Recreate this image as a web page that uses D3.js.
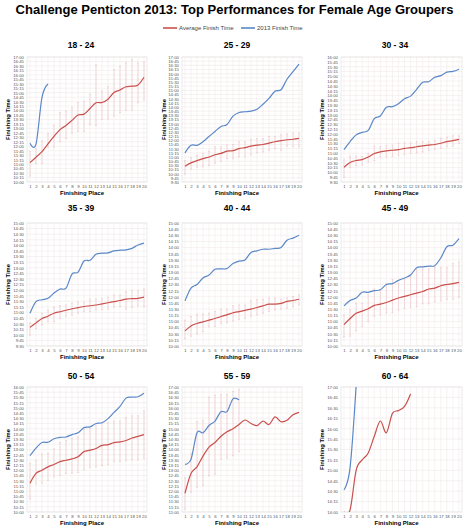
<!DOCTYPE html>
<html>
<head>
<meta charset="utf-8">
<script src="https://cdn.jsdelivr.net/npm/d3@7"></script>
<style>
body { margin: 0; background: #fff; }
text { font-family: "Liberation Sans", Arial, sans-serif; }
</style>
</head>
<body>
<script>

var width = 469, height = 530;

var places = [1, 2, 3, 4, 5, 6, 7, 8, 9, 10, 11, 12, 13, 14, 15, 16, 17, 18, 19, 20];
var ageGroups = ["18 - 24", "25 - 29", "30 - 34", "35 - 39", "40 - 44", "45 - 49", "50 - 54", "55 - 59", "60 - 64"];
var seriesNames = ["Average Finish Time", "2013 Finish Time"];

// y axis range of each panel
var range1824 = ["10:00", "17:00"];
var range2529 = ["9:30", "17:00"];
var range3034 = ["9:30", "16:00"];
var range3539 = ["9:30", "15:00"];
var range4044 = ["10:00", "15:00"];
var range4549 = ["10:00", "15:00"];
var range5054 = ["10:00", "16:00"];
var range5559 = ["11:00", "17:00"];
var range6064 = ["14:00", "17:00"];

// 18 - 24
var avg1824 = ["11:05","11:23","11:42","12:08","12:33","12:56","13:10","13:27","13:45","13:48","14:07","14:26","14:27","14:38","15:01","15:09","15:20","15:22","15:26","15:52"];
var low1824 = ["10:20","11:02","11:02","11:57","11:57","12:16","12:26","12:45","12:50","12:50","13:13","13:10","13:30","13:32","13:41","13:53","14:01","14:02","14:27","14:36"];
var high1824 = ["11:42","11:53","12:18","12:42","13:10","13:53","13:58","14:11","14:27","14:30","14:55","16:34","15:06","15:21","16:18","16:29","16:41","16:52","16:40","16:43"];
var fin1824 = ["12:10","12:07","14:44","15:29"];

// 25 - 29
var avg2529 = ["10:27","10:39","10:47","10:54","11:00","11:08","11:13","11:21","11:23","11:30","11:34","11:39","11:43","11:45","11:50","11:55","11:59","12:02","12:04","12:07"];
var low2529 = ["9:58","10:17","10:23","10:25","10:29","10:38","10:45","10:54","10:54","11:00","11:00","11:08","11:15","11:18","11:24","11:30","11:24","11:39","11:37","11:37"];
var high2529 = ["10:47","10:57","11:06","11:12","11:21","11:37","11:37","11:43","11:45","11:55","11:55","12:04","12:06","12:06","12:14","12:14","12:20","12:23","12:26","12:26"];
var fin2529 = ["11:15","11:42","11:42","11:55","12:14","12:32","12:50","12:57","13:27","13:40","13:43","13:45","13:52","14:10","14:31","14:57","15:02","15:40","16:07","16:34"];

// 30 - 34
var avg3034 = ["10:16","10:31","10:37","10:40","10:48","10:59","11:04","11:07","11:09","11:11","11:15","11:17","11:20","11:23","11:25","11:27","11:31","11:36","11:39","11:43"];
var low3034 = ["9:44","10:16","10:21","10:23","10:32","10:37","10:48","10:48","10:50","10:53","10:55","10:59","11:01","11:04","11:09","11:11","11:15","11:20","11:22","11:31"];
var high3034 = ["10:39","10:50","10:51","10:50","10:59","11:22","11:20","11:24","11:25","11:31","11:33","11:33","11:36","11:36","11:36","11:39","11:47","11:50","11:54","11:54"];
var fin3034 = ["11:11","11:36","11:57","12:05","12:11","12:48","12:56","13:23","13:25","13:34","13:50","13:58","14:19","14:41","14:43","14:57","15:02","15:13","15:15","15:22"];

// 35 - 39
var avg3539 = ["10:20","10:32","10:44","10:50","10:58","11:02","11:06","11:10","11:13","11:16","11:18","11:20","11:23","11:26","11:29","11:32","11:36","11:37","11:38","11:41"];
var low3539 = ["9:59","10:17","10:26","10:35","10:35","10:44","10:50","10:53","10:58","11:02","11:02","11:07","11:07","11:09","11:14","11:16","11:09","11:13","11:18","11:16"];
var high3539 = ["10:32","10:44","10:58","11:07","11:14","11:18","11:20","11:25","11:28","11:27","11:36","11:36","11:38","11:41","11:47","11:47","11:56","11:59","11:59","12:03"];
var fin3539 = ["10:58","11:29","11:34","11:38","11:52","12:03","12:05","12:43","12:48","13:18","13:20","13:36","13:39","13:40","13:45","13:47","13:48","13:52","14:01","14:06"];

// 40 - 44
var avg4044 = ["10:37","10:49","10:55","10:59","11:03","11:07","11:12","11:16","11:21","11:24","11:27","11:30","11:34","11:38","11:42","11:42","11:44","11:49","11:51","11:54"];
var low4044 = ["10:18","10:24","10:29","10:35","10:47","10:48","10:55","10:57","11:01","11:05","11:07","11:12","11:16","11:20","11:24","11:28","11:30","11:32","11:36","11:40"];
var high4044 = ["11:03","11:12","11:18","11:18","11:20","11:24","11:30","11:30","11:38","11:40","11:40","11:51","11:53","11:54","11:57","11:57","11:54","11:57","12:01","12:05"];
var fin4044 = ["11:50","12:21","12:30","12:46","12:53","13:07","13:08","13:09","13:21","13:27","13:30","13:48","13:52","13:56","13:56","13:58","14:00","14:18","14:23","14:30"];

// 45 - 49
var avg4549 = ["10:52","11:07","11:20","11:25","11:31","11:39","11:42","11:46","11:52","11:57","12:01","12:05","12:09","12:13","12:19","12:21","12:27","12:30","12:32","12:35"];
var low4549 = ["10:22","10:24","10:37","10:48","10:59","11:12","11:16","11:20","11:21","11:28","11:32","11:34","11:36","11:43","11:43","11:48","11:50","11:53","11:54","11:59"];
var high4549 = ["11:16","11:28","11:44","11:44","12:05","12:19","12:17","12:32","12:42","12:33","12:42","12:50","13:06","13:08","13:08","13:11","13:11","13:11","13:21","13:25"];
var fin4549 = ["11:38","11:51","11:57","12:11","12:11","12:15","12:17","12:30","12:32","12:40","12:46","12:53","13:11","13:13","13:15","13:16","13:35","14:02","14:06","14:22"];

// 50 - 54
var avg5054 = ["11:23","11:51","12:00","12:10","12:17","12:25","12:29","12:33","12:39","12:54","12:58","13:03","13:12","13:14","13:20","13:22","13:26","13:33","13:38","13:43"];
var low5054 = ["10:37","11:21","11:23","11:31","11:41","11:46","11:51","11:52","11:54","12:02","12:08","12:10","12:14","12:17","12:25","12:25","12:28","12:30","12:30","12:35"];
var high5054 = ["12:20","12:28","12:47","12:49","13:02","13:20","13:26","13:33","13:36","13:58","14:00","14:10","14:17","14:17","14:22","14:22","14:32","14:37","14:37","14:51"];
var fin5054 = ["12:42","13:04","13:20","13:21","13:31","13:35","13:36","13:43","13:48","14:03","14:05","14:15","14:17","14:29","14:47","15:04","15:28","15:31","15:32","15:42"];

// 55 - 59
var avg5559 = ["11:54","12:51","13:10","13:41","14:07","14:20","14:38","14:51","15:00","15:12","15:25","15:15","15:09","15:22","15:12","15:34","15:20","15:24","15:40","15:47"];
var low5559 = ["11:08","11:57","12:11","12:16","12:44","12:49","13:32","13:35","13:42","13:54"];
var high5559 = ["12:39","13:49","15:20","15:24","16:31","16:36","16:38","16:38","16:47","16:53"];
var fin5559 = ["13:17","13:32","14:48","14:48","15:09","15:22","15:49","15:49","16:26","16:23"];

// 60 - 64
var avg6064 = ["14:00","14:03","15:00","15:15","15:25","15:49","16:11","15:54","16:22","16:26","16:32","16:50"];
var low6064 = [];
var high6064 = [];
var fin6064 = ["14:32","15:04","17:02"];

var redColor = "#c9504c", blueColor = "#5a88c9", barColor = "#ebc2c2", gridColor = "#f1eaea";

var panels = [
    [range1824, avg1824, low1824, high1824, fin1824],
    [range2529, avg2529, low2529, high2529, fin2529],
    [range3034, avg3034, low3034, high3034, fin3034],
    [range3539, avg3539, low3539, high3539, fin3539],
    [range4044, avg4044, low4044, high4044, fin4044],
    [range4549, avg4549, low4549, high4549, fin4549],
    [range5054, avg5054, low5054, high5054, fin5054],
    [range5559, avg5559, low5559, high5559, fin5559],
    [range6064, avg6064, low6064, high6064, fin6064]
];

// plot boxes
var colLeft = [27, 182, 341], colRight = [147, 302, 462];
var rowTop = [57, 223, 387], rowBottom = [182, 346, 512];
var titleY = [48, 211, 379];
var yLabelX = [8, 164, 322];

function toMin(s) {
    var p = s.split(":");
    return +p[0] * 60 + +p[1];
}
function fmt(m) {
    var h = Math.floor(m / 60), mm = m % 60;
    return h + ":" + (mm < 10 ? "0" : "") + mm;
}

var svg = d3.select("body").append("svg")
    .attr("width", width)
    .attr("height", height);

// main title
var title = svg.append("text")
    .attr("x", width / 2)
    .attr("y", 13.5)
    .attr("text-anchor", "middle")
    .style("font-weight", "bold")
    .style("font-size", "12px")
    .text("Challenge Penticton 2013: Top Performances for Female Age Groupers");
var tw = title.node().getComputedTextLength();
title.style("font-size", (12 * 438 / tw) + "px");

// legend
var legend = svg.append("g");
var legendItems = [[163, redColor], [241, blueColor]];
legendItems.forEach(function (it, i) {
    legend.append("line")
        .attr("x1", it[0]).attr("x2", it[0] + 14)
        .attr("y1", 28).attr("y2", 28)
        .attr("stroke", it[1]).attr("stroke-width", 1.6);
    legend.append("text")
        .attr("x", it[0] + 16).attr("y", 30)
        .style("font-size", "6px").style("fill", "#444")
        .text(seriesNames[i]);
});

var line = d3.line()
    .x(function (d) { return d[0]; })
    .y(function (d) { return d[1]; })
    .curve(d3.curveCardinal);

panels.forEach(function (p, i) {
    var col = i % 3, row = Math.floor(i / 3);
    var x0 = colLeft[col], x1 = colRight[col], y0 = rowTop[row], y1 = rowBottom[row];
    var lo = toMin(p[0][0]), hi = toMin(p[0][1]);

    var x = d3.scalePoint().domain(places).range([x0, x1]).padding(0.5);
    var y = d3.scaleLinear().domain([lo, hi]).range([y1, y0]);
    var ticks = d3.range(lo, hi + 1, 15);

    var g = svg.append("g");

    g.append("clipPath").attr("id", "clip" + i)
        .append("rect").attr("x", x0).attr("y", y0).attr("width", x1 - x0).attr("height", y1 - y0);

    // grid
    g.append("g").selectAll("line").data(ticks).enter().append("line")
        .attr("x1", x0).attr("x2", x1)
        .attr("y1", function (d) { return y(d); }).attr("y2", function (d) { return y(d); })
        .attr("stroke", gridColor).attr("stroke-width", 0.6);
    g.append("g").selectAll("line").data(places).enter().append("line")
        .attr("x1", function (d) { return x(d); }).attr("x2", function (d) { return x(d); })
        .attr("y1", y0).attr("y2", y1)
        .attr("stroke", gridColor).attr("stroke-width", 0.6);
    g.append("rect")
        .attr("x", x0).attr("y", y0).attr("width", x1 - x0).attr("height", y1 - y0)
        .attr("fill", "none").attr("stroke", "#e2dcdc").attr("stroke-width", 0.6);

    // axes
    var yAxis = g.append("g").attr("transform", "translate(" + (x0 - 1) + ",0)")
        .call(d3.axisLeft(y).tickValues(ticks).tickFormat(fmt).tickSize(0).tickPadding(2));
    var xAxis = g.append("g").attr("transform", "translate(0," + y1 + ")")
        .call(d3.axisBottom(x).tickSize(0).tickPadding(3));
    [yAxis, xAxis].forEach(function (a) {
        a.select(".domain").remove();
        a.selectAll("text").style("font-size", "4.3px").style("fill", "#555")
            .style("font-family", "'Liberation Sans', Arial, sans-serif");
    });

    // error bars
    var bars = g.append("g").attr("stroke", barColor).attr("stroke-width", 0.6);
    p[2].forEach(function (v, k) {
        var xx = x(places[k]), ya = y(toMin(v)), yb = y(toMin(p[3][k]));
        bars.append("line").attr("x1", xx).attr("x2", xx).attr("y1", ya).attr("y2", yb);
        bars.append("line").attr("x1", xx - 1).attr("x2", xx + 1).attr("y1", ya).attr("y2", ya);
        bars.append("line").attr("x1", xx - 1).attr("x2", xx + 1).attr("y1", yb).attr("y2", yb);
    });

    // lines
    var series = [[p[1], redColor], [p[4], blueColor]];
    series.forEach(function (s) {
        var pts = s[0].map(function (v, k) { return [x(places[k]), y(toMin(v))]; });
        g.append("path")
            .attr("d", line(pts))
            .attr("clip-path", "url(#clip" + i + ")")
            .attr("fill", "none")
            .attr("stroke", s[1])
            .attr("stroke-width", 1.2);
    });

    // titles
    g.append("text")
        .attr("x", [81, 237, 395][col]).attr("y", titleY[row])
        .attr("text-anchor", "middle")
        .style("font-weight", "bold").style("font-size", "8.5px")
        .text(ageGroups[i]);
    g.append("text")
        .attr("transform", "translate(" + yLabelX[col] + "," + ((y0 + y1) / 2) + ") rotate(-90)")
        .attr("text-anchor", "middle").attr("dy", "0.35em")
        .style("font-weight", "bold").style("font-size", "5.8px")
        .text("Finishing Time");
    g.append("text")
        .attr("x", (x0 + x1) / 2 - 5).attr("y", y1 + 13)
        .attr("text-anchor", "middle")
        .style("font-weight", "bold").style("font-size", "6px")
        .text("Finishing Place");
});

</script>
</body>
</html>
